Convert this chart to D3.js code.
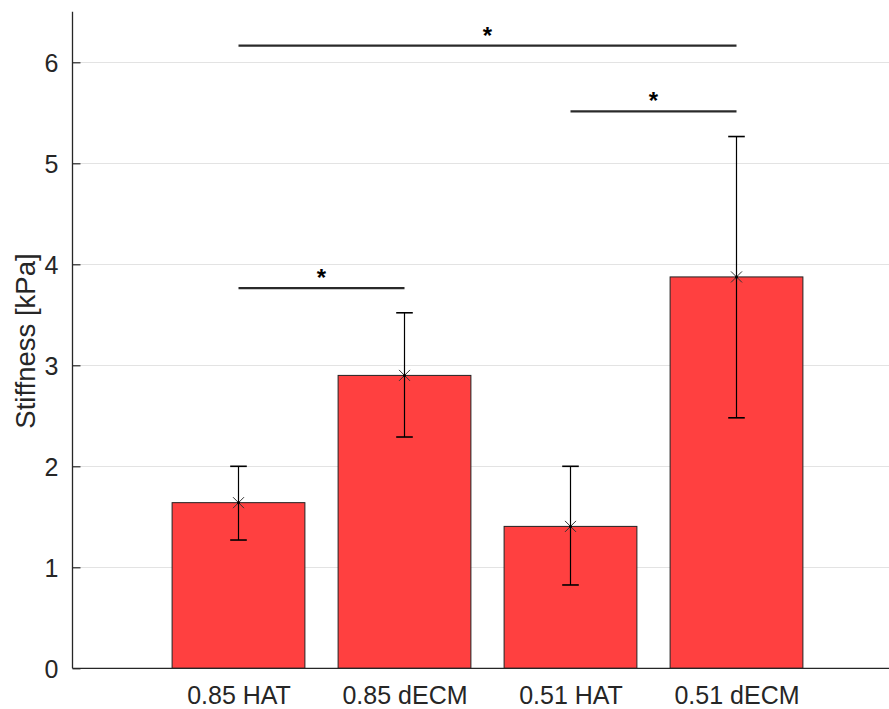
<!DOCTYPE html>
<html><head><meta charset="utf-8">
<script src="https://cdn.jsdelivr.net/npm/d3@7"></script>
<style>
html,body{margin:0;padding:0;background:#fff;}
svg{display:block;font-family:"Liberation Sans",Arial,Helvetica,sans-serif;}
</style></head>
<body>
<svg id="chart" width="889" height="709"></svg>
<script>
const categories = ["0.85 HAT", "0.85 dECM", "0.51 HAT", "0.51 dECM"];
const means = [1.64, 2.90, 1.405, 3.875];
const errLow = [1.27, 2.29, 0.825, 2.48];
const errHigh = [2.00, 3.52, 2.00, 5.265];
const sigFrom = [0, 2, 0];
const sigTo = [1, 3, 3];
const sigLevel = [3.765, 5.515, 6.165];
const sigLabel = ["*", "*", "*"];
const yTicks = [0, 1, 2, 3, 4, 5, 6];
const yLabel = "Stiffness [kPa]";

const svg = d3.select("#chart");
const W = 889, H = 709;
const x = d3.scaleLinear().domain([0, 5]).range([72.5, 902.5]);
const y = d3.scaleLinear().domain([0, 6.5]).range([668.3, 11.8]);
const barW = 0.8;
const axisColor = "#262626";

// gridlines
svg.append("g").selectAll("line").data(yTicks.filter(t => t > 0)).join("line")
  .attr("x1", x(0)).attr("x2", W)
  .attr("y1", d => Math.round(y(d)) + 0.5).attr("y2", d => Math.round(y(d)) + 0.5)
  .attr("stroke", "#e3e3e3").attr("stroke-width", 1);

// y axis
const yAxis = d3.axisLeft(y).tickValues(yTicks).tickSize(-8).tickPadding(14).tickFormat(d3.format("d"));
const gy = svg.append("g").attr("transform", `translate(${x(0)},0)`).call(yAxis);
gy.select(".domain").remove();
gy.selectAll(".tick line").attr("stroke", axisColor).attr("stroke-width", 1.2);
gy.selectAll(".tick text").attr("fill", axisColor).attr("font-size", 25)
  .attr("font-family", "Liberation Sans, Arial, sans-serif").attr("dy", "0.36em");
svg.append("line").attr("x1", x(0)).attr("x2", x(0)).attr("y1", y(0)).attr("y2", y(6.5))
  .attr("stroke", axisColor).attr("stroke-width", 1.3);

// bars
const idx = d3.range(categories.length);
svg.append("g").selectAll("rect").data(idx).join("rect")
  .attr("x", i => x(i + 1 - barW / 2))
  .attr("width", i => x(i + 1 + barW / 2) - x(i + 1 - barW / 2))
  .attr("y", i => y(means[i]))
  .attr("height", i => y(0) - y(means[i]))
  .attr("fill", "#ff4040").attr("stroke", "#222").attr("stroke-width", 1);

// x axis line
svg.append("line").attr("x1", x(0)).attr("x2", W).attr("y1", y(0)).attr("y2", y(0))
  .attr("stroke", axisColor).attr("stroke-width", 1.3);

// x labels
const xAxis = d3.axisBottom(x).tickValues(idx.map(i => i + 1)).tickSize(0).tickPadding(18)
  .tickFormat(d => categories[d - 1]);
const gx = svg.append("g").attr("transform", `translate(0,${y(0)})`).call(xAxis);
gx.select(".domain").remove();
gx.selectAll(".tick text").attr("fill", axisColor).attr("font-size", 25)
  .attr("font-family", "Liberation Sans, Arial, sans-serif");

// error bars
const eb = svg.append("g").attr("stroke", "#000").attr("stroke-width", 1.2).attr("fill", "none");
idx.forEach(i => {
  const cx = x(i + 1);
  eb.append("line").attr("x1", cx).attr("x2", cx).attr("y1", y(errLow[i])).attr("y2", y(errHigh[i]));
  eb.append("line").attr("x1", cx - 8.3).attr("x2", cx + 8.3).attr("y1", y(errLow[i])).attr("y2", y(errLow[i])).attr("stroke-width", 1.6);
  eb.append("line").attr("x1", cx - 8.3).attr("x2", cx + 8.3).attr("y1", y(errHigh[i])).attr("y2", y(errHigh[i])).attr("stroke-width", 1.6);
  const cy = y(means[i]), s = 5.5;
  eb.append("path").attr("d", `M${cx - s},${cy - s}L${cx + s},${cy + s}M${cx - s},${cy + s}L${cx + s},${cy - s}`)
    .attr("stroke", "#333").attr("stroke-width", 1);
  eb.append("circle").attr("cx", cx).attr("cy", cy).attr("r", 1.5).attr("fill", "#000").attr("stroke", "none");
});

// significance brackets
const sg = svg.append("g");
sigLevel.forEach((lv, k) => {
  const x1 = x(sigFrom[k] + 1), x2 = x(sigTo[k] + 1);
  sg.append("line").attr("x1", x1).attr("x2", x2).attr("y1", y(lv)).attr("y2", y(lv))
    .attr("stroke", "#2a2a2a").attr("stroke-width", 2.2);
  sg.append("text").attr("x", (x1 + x2) / 2).attr("y", y(lv) - 2)
    .attr("text-anchor", "middle").attr("font-size", 24).attr("font-weight", "bold")
    .attr("fill", "#000").text(sigLabel[k]);
});

// y label
svg.append("text").attr("transform", `translate(35,341) rotate(-90)`)
  .attr("text-anchor", "middle").attr("font-size", 27.5).attr("fill", axisColor)
  .text(yLabel);
</script>
</body></html>
